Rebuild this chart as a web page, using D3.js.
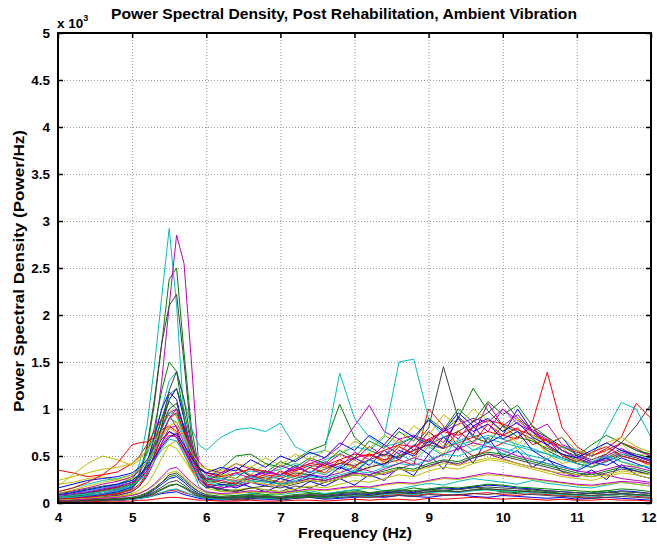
<!DOCTYPE html>
<html>
<head>
<meta charset="utf-8">
<script src="https://cdn.jsdelivr.net/npm/d3@7"></script>
<style>
  body { margin: 0; background: #fff; }
  svg text { font-family: "Liberation Sans", Arial, sans-serif; font-weight: bold; fill: #000; }
</style>
</head>
<body>
<div id="chart"></div>
<script>
// frequency bins (Hz), finer around the 5.5 Hz mode
const freqs = [4.0, 4.2, 4.4, 4.6, 4.8, 5.0,
  5.1, 5.2, 5.3, 5.4, 5.5, 5.6, 5.7, 5.8, 5.9, 6.0,
  6.2, 6.4, 6.6, 6.8, 7.0, 7.2, 7.4, 7.6, 7.8, 8.0, 8.2, 8.4, 8.6, 8.8, 9.0,
  9.2, 9.4, 9.6, 9.8, 10.0, 10.2, 10.4, 10.6, 10.8, 11.0, 11.2, 11.4, 11.6, 11.8, 12.0];

const xTicks = [4, 5, 6, 7, 8, 9, 10, 11, 12];
const yTicks = [0, 500, 1000, 1500, 2000, 2500, 3000, 3500, 4000, 4500, 5000];

// one row per measurement channel, values in Power/Hz
const psd = [
  [60, 80, 110, 140, 170, 220, 280, 380, 560, 820, 1100, 1220, 900, 560, 300, 180, 150, 220, 170, 120, 190, 140, 230, 180, 260, 190, 300, 240, 380, 290, 520, 360, 610, 420, 700, 480, 560, 380, 470, 330, 280, 350, 250, 410, 300, 260],
  [40, 50, 60, 80, 110, 180, 300, 560, 1050, 1700, 2380, 2500, 1600, 800, 380, 200, 120, 140, 110, 90, 100, 130, 110, 90, 120, 140, 110, 100, 130, 160, 140, 120, 150, 170, 140, 120, 110, 140, 120, 100, 90, 110, 130, 100, 90, 80],
  [350, 320, 280, 300, 330, 420, 500, 620, 760, 900, 940, 800, 560, 400, 300, 240, 320, 380, 300, 260, 220, 300, 260, 240, 280, 330, 380, 420, 460, 400, 1000, 820, 600, 500, 560, 640, 700, 820, 600, 520, 420, 380, 450, 500, 460, 400],
  [30, 40, 50, 70, 100, 220, 420, 820, 1450, 2200, 2920, 2100, 900, 380, 180, 110, 90, 80, 100, 120, 90, 110, 130, 100, 120, 140, 160, 130, 150, 180, 210, 190, 230, 260, 240, 220, 200, 240, 210, 190, 170, 160, 190, 220, 200, 180],
  [20, 30, 40, 60, 90, 150, 260, 420, 700, 1300, 2100, 2850, 2550, 1500, 380, 200, 180, 220, 260, 230, 200, 260, 300, 280, 320, 380, 340, 300, 360, 420, 380, 450, 400, 480, 520, 470, 420, 380, 350, 300, 280, 320, 300, 260, 240, 220],
  [180, 300, 420, 500, 460, 400, 460, 560, 700, 860, 1000, 920, 700, 500, 380, 320, 280, 360, 300, 420, 330, 260, 380, 300, 440, 360, 540, 420, 600, 520, 760, 600, 920, 700, 640, 820, 560, 700, 520, 600, 420, 380, 520, 640, 480, 560],
  [50, 60, 80, 100, 140, 200, 320, 600, 1100, 1700, 2100, 2220, 1500, 700, 320, 180, 150, 130, 160, 140, 120, 180, 160, 220, 260, 320, 380, 420, 500, 600, 800, 1450, 900, 700, 640, 820, 760, 680, 560, 480, 420, 380, 440, 520, 480, 420],
  [20, 20, 30, 40, 30, 40, 50, 60, 80, 100, 110, 120, 90, 70, 50, 40, 30, 40, 50, 40, 30, 50, 60, 40, 50, 60, 70, 60, 80, 70, 60, 80, 90, 70, 60, 80, 70, 60, 50, 60, 40, 50, 60, 50, 40, 30],
  [100, 120, 150, 180, 200, 260, 360, 520, 800, 1200, 1500, 1400, 900, 520, 320, 260, 360, 500, 520, 420, 380, 460, 560, 620, 1050, 700, 560, 500, 620, 700, 640, 760, 900, 1220, 980, 820, 700, 660, 580, 520, 460, 420, 480, 560, 520, 480],
  [60, 80, 100, 130, 160, 200, 260, 340, 480, 640, 760, 700, 520, 360, 260, 200, 180, 220, 260, 300, 280, 340, 400, 380, 420, 480, 520, 460, 500, 560, 620, 580, 640, 700, 760, 720, 680, 860, 1390, 800, 600, 500, 560, 640, 580, 500],
  [120, 160, 200, 240, 260, 300, 380, 520, 720, 1000, 1300, 1400, 1100, 800, 620, 560, 700, 780, 800, 760, 850, 600, 520, 560, 1380, 900, 700, 600, 640, 700, 620, 580, 660, 720, 680, 640, 600, 560, 520, 480, 440, 420, 480, 520, 500, 460],
  [40, 60, 80, 100, 130, 180, 240, 340, 500, 700, 900, 1000, 820, 560, 380, 300, 260, 240, 280, 320, 300, 360, 420, 480, 600, 820, 1040, 760, 680, 720, 660, 760, 840, 900, 860, 1000, 880, 760, 660, 560, 480, 420, 460, 540, 500, 440],
  [200, 220, 260, 280, 240, 260, 300, 360, 460, 560, 620, 580, 460, 340, 260, 220, 280, 220, 300, 260, 200, 340, 280, 400, 320, 460, 360, 520, 420, 480, 620, 520, 780, 600, 680, 860, 620, 760, 520, 420, 460, 380, 560, 440, 380, 420],
  [70, 90, 110, 140, 170, 220, 280, 380, 560, 800, 1000, 1060, 800, 520, 340, 260, 220, 200, 240, 280, 260, 320, 300, 360, 420, 400, 460, 520, 480, 560, 620, 700, 760, 860, 960, 1100, 900, 780, 700, 600, 520, 460, 520, 640, 820, 1050],
  [160, 200, 240, 260, 280, 320, 380, 460, 560, 680, 760, 720, 580, 440, 360, 320, 300, 380, 280, 340, 300, 400, 320, 420, 360, 480, 400, 560, 460, 620, 520, 700, 560, 820, 640, 720, 1000, 760, 620, 700, 500, 440, 400, 480, 420, 360],
  [30, 40, 60, 80, 100, 160, 240, 380, 620, 900, 1150, 1220, 980, 620, 360, 240, 200, 180, 220, 240, 200, 220, 260, 240, 280, 320, 300, 340, 380, 360, 420, 460, 440, 500, 540, 520, 480, 440, 400, 360, 320, 300, 340, 380, 360, 320],
  [30, 30, 40, 30, 40, 50, 60, 70, 90, 110, 130, 140, 110, 90, 70, 60, 50, 40, 60, 50, 40, 60, 70, 60, 80, 70, 60, 80, 90, 80, 100, 90, 80, 100, 110, 90, 80, 100, 90, 80, 70, 60, 80, 90, 70, 60],
  [80, 100, 130, 160, 190, 240, 300, 400, 560, 740, 900, 860, 680, 480, 340, 280, 260, 300, 340, 320, 360, 420, 380, 460, 520, 600, 560, 700, 1500, 1530, 900, 700, 620, 660, 720, 680, 620, 580, 520, 460, 420, 380, 440, 500, 460, 420],
  [100, 130, 160, 200, 230, 280, 340, 440, 600, 800, 960, 1000, 820, 600, 440, 360, 320, 420, 360, 300, 400, 340, 460, 400, 520, 460, 600, 500, 680, 560, 760, 640, 900, 720, 1060, 820, 940, 760, 840, 620, 560, 420, 520, 640, 560, 500],
  [20, 30, 40, 50, 70, 100, 140, 200, 320, 480, 620, 660, 520, 340, 220, 160, 120, 140, 160, 140, 120, 150, 180, 160, 200, 240, 220, 260, 300, 280, 340, 380, 360, 420, 460, 440, 400, 360, 320, 280, 260, 240, 280, 320, 300, 260],
  [10, 10, 20, 20, 30, 40, 50, 70, 100, 140, 180, 200, 160, 110, 70, 50, 40, 30, 40, 50, 40, 50, 60, 50, 60, 70, 60, 70, 80, 70, 90, 80, 90, 100, 90, 110, 100, 90, 80, 70, 60, 50, 60, 70, 60, 50],
  [40, 50, 70, 90, 120, 170, 260, 420, 700, 1000, 1180, 1100, 780, 440, 240, 160, 200, 160, 220, 180, 260, 220, 300, 260, 380, 320, 460, 400, 560, 500, 660, 580, 920, 760, 840, 680, 760, 560, 460, 400, 340, 420, 480, 380, 340, 300],
  [60, 70, 90, 120, 150, 200, 280, 420, 640, 900, 1080, 1000, 740, 480, 320, 240, 300, 260, 380, 320, 440, 380, 480, 420, 560, 480, 660, 580, 760, 660, 900, 780, 1000, 860, 1080, 940, 1040, 820, 700, 560, 500, 620, 720, 640, 560, 520],
  [120, 160, 220, 300, 420, 620, 640, 650, 700, 780, 820, 760, 600, 460, 380, 320, 280, 320, 360, 340, 300, 360, 420, 400, 460, 520, 500, 560, 620, 600, 680, 760, 720, 800, 880, 840, 780, 720, 660, 600, 540, 500, 580, 700, 1060, 900],
  [50, 60, 80, 100, 130, 180, 260, 380, 560, 780, 960, 940, 720, 460, 300, 220, 180, 200, 240, 220, 200, 240, 280, 260, 300, 340, 320, 380, 420, 400, 460, 520, 500, 560, 600, 580, 540, 500, 460, 600, 560, 500, 780, 1070, 1000, 700],
  [30, 40, 50, 60, 80, 120, 180, 280, 440, 640, 800, 820, 640, 420, 260, 180, 160, 180, 220, 200, 180, 220, 260, 240, 280, 320, 300, 360, 420, 480, 440, 520, 580, 640, 600, 560, 500, 460, 420, 380, 340, 320, 360, 400, 380, 340],
  [240, 280, 320, 360, 380, 420, 480, 560, 660, 760, 800, 740, 600, 480, 400, 360, 340, 420, 380, 480, 400, 520, 460, 560, 500, 660, 580, 720, 640, 820, 720, 940, 820, 1000, 880, 760, 900, 720, 640, 700, 560, 520, 640, 700, 600, 540],
  [20, 30, 40, 60, 80, 120, 180, 300, 520, 820, 1200, 1400, 1100, 640, 320, 180, 140, 120, 160, 180, 160, 200, 240, 220, 260, 300, 280, 320, 360, 340, 400, 440, 420, 480, 520, 500, 460, 420, 380, 340, 300, 280, 320, 360, 340, 300],
  [10, 20, 20, 30, 30, 40, 60, 90, 140, 200, 260, 280, 220, 150, 100, 70, 50, 60, 70, 60, 50, 70, 80, 70, 90, 100, 90, 110, 120, 110, 140, 160, 150, 170, 190, 180, 160, 150, 130, 120, 110, 100, 110, 130, 120, 100],
  [20, 20, 30, 40, 50, 60, 80, 110, 160, 220, 280, 300, 240, 170, 120, 90, 70, 80, 90, 80, 70, 90, 100, 90, 110, 120, 110, 130, 140, 130, 150, 170, 160, 180, 200, 190, 170, 160, 150, 140, 130, 120, 130, 150, 140, 120],
  [40, 50, 60, 80, 100, 140, 200, 320, 500, 720, 900, 960, 760, 500, 320, 220, 240, 200, 300, 240, 340, 280, 380, 320, 460, 380, 520, 440, 600, 520, 680, 580, 760, 640, 840, 720, 800, 620, 680, 500, 440, 540, 600, 500, 460, 420],
  [10, 10, 20, 20, 30, 40, 50, 60, 80, 110, 140, 150, 120, 90, 60, 50, 40, 50, 60, 50, 40, 60, 70, 60, 70, 80, 70, 90, 100, 90, 110, 120, 110, 130, 140, 130, 120, 110, 100, 90, 80, 70, 80, 90, 80, 70],
  [80, 100, 120, 150, 180, 220, 280, 360, 480, 620, 720, 700, 560, 420, 320, 260, 240, 320, 260, 340, 300, 380, 320, 440, 380, 540, 460, 620, 520, 700, 600, 800, 680, 880, 760, 1000, 840, 760, 680, 560, 480, 420, 500, 580, 500, 440],
  [30, 40, 50, 60, 70, 90, 110, 140, 190, 260, 320, 340, 280, 200, 140, 110, 90, 100, 120, 110, 100, 120, 140, 130, 150, 170, 160, 190, 210, 200, 230, 260, 250, 280, 300, 290, 270, 250, 230, 210, 190, 180, 200, 220, 200, 180],
  [10, 20, 20, 30, 40, 50, 70, 100, 150, 220, 300, 320, 260, 180, 120, 80, 60, 70, 80, 70, 60, 80, 90, 80, 100, 110, 100, 120, 130, 120, 140, 150, 140, 160, 170, 160, 150, 140, 130, 120, 110, 100, 110, 120, 110, 100],
  [90, 110, 140, 170, 200, 240, 300, 380, 480, 600, 700, 740, 620, 480, 380, 320, 380, 340, 460, 380, 500, 440, 540, 480, 640, 560, 720, 620, 800, 700, 880, 760, 960, 820, 900, 760, 860, 700, 620, 520, 480, 560, 640, 560, 500, 460],
  [10, 20, 30, 30, 40, 50, 60, 80, 110, 150, 190, 200, 170, 120, 80, 60, 50, 60, 70, 60, 50, 60, 70, 60, 80, 90, 80, 100, 110, 100, 120, 130, 120, 140, 150, 140, 130, 120, 110, 100, 90, 80, 90, 100, 90, 80],
  [10, 10, 10, 20, 20, 20, 30, 30, 40, 50, 60, 60, 50, 40, 30, 30, 20, 20, 30, 20, 20, 30, 30, 20, 30, 40, 30, 40, 40, 30, 50, 40, 50, 60, 50, 40, 50, 40, 30, 40, 30, 30, 40, 30, 30, 20],
  [60, 80, 100, 120, 150, 190, 240, 320, 440, 580, 680, 660, 520, 380, 280, 220, 260, 220, 280, 240, 300, 260, 340, 300, 400, 340, 460, 380, 520, 440, 600, 500, 680, 560, 640, 520, 600, 460, 420, 380, 360, 440, 500, 440, 400, 380],
  [20, 30, 40, 50, 60, 80, 100, 140, 200, 280, 360, 380, 300, 220, 160, 120, 100, 110, 130, 120, 110, 130, 150, 140, 160, 180, 170, 200, 220, 210, 240, 270, 260, 290, 320, 300, 280, 260, 240, 220, 200, 190, 210, 230, 220, 200],
  [100, 140, 180, 220, 250, 300, 360, 440, 560, 700, 820, 860, 720, 540, 420, 360, 300, 260, 220, 200, 180, 220, 240, 220, 260, 300, 280, 320, 360, 340, 380, 420, 400, 440, 480, 460, 420, 380, 340, 320, 300, 280, 300, 340, 320, 300],
  [20, 20, 30, 30, 40, 50, 60, 80, 120, 170, 220, 240, 190, 130, 90, 70, 60, 50, 60, 70, 60, 70, 80, 70, 80, 90, 80, 100, 110, 100, 120, 130, 120, 140, 150, 140, 130, 120, 110, 100, 90, 80, 90, 100, 90, 80]
];

// matlab line colour cycle
const lineColors = ['#0000ff', '#008000', '#ff0000', '#00bfbf', '#bf00bf', '#bfbf00', '#404040'];

const width = 657;
const height = 544;
const margin = {top: 33, right: 6, bottom: 41, left: 58};
const plotW = width - margin.left - margin.right;
const plotH = height - margin.top - margin.bottom;

const svg = d3.select('#chart')
  .append('svg')
  .attr('width', width)
  .attr('height', height);

const x = d3.scaleLinear().domain([4, 12]).range([0, plotW]);
const y = d3.scaleLinear().domain([0, 5000]).range([plotH, 0]);

const g = svg.append('g')
  .attr('transform', `translate(${margin.left},${margin.top})`);

// dotted grid
g.append('g')
  .attr('class', 'grid')
  .attr('transform', `translate(0,${plotH})`)
  .call(d3.axisBottom(x).tickValues(xTicks).tickSize(-plotH).tickFormat(''));
g.append('g')
  .attr('class', 'grid')
  .call(d3.axisLeft(y).tickValues(yTicks).tickSize(-plotW).tickFormat(''));
g.selectAll('.grid .domain').remove();
g.selectAll('.grid line')
  .attr('stroke', '#9a9a9a')
  .attr('stroke-width', 1)
  .attr('stroke-dasharray', '1,2');

g.append('clipPath').attr('id', 'clip')
  .append('rect').attr('width', plotW).attr('height', plotH);

const line = d3.line()
  .x((d, i) => x(freqs[i]))
  .y(d => y(d));

g.append('g')
  .attr('clip-path', 'url(#clip)')
  .selectAll('path')
  .data(psd)
  .join('path')
  .attr('d', line)
  .attr('fill', 'none')
  .attr('stroke', (d, i) => lineColors[i % lineColors.length])
  .attr('stroke-width', 1)
  .attr('stroke-linejoin', 'round');

// axes, ticks pointing inward like matlab
const xAxis = g.append('g')
  .attr('transform', `translate(0,${plotH})`)
  .call(d3.axisBottom(x).tickValues(xTicks).tickSize(-5).tickSizeOuter(0).tickPadding(9));
const yAxis = g.append('g')
  .call(d3.axisLeft(y).tickValues(yTicks).tickSize(-5).tickSizeOuter(0).tickPadding(8)
    .tickFormat(d => d3.format('~g')(d / 1000)));
const topAxis = g.append('g')
  .call(d3.axisTop(x).tickValues(xTicks).tickSize(-5).tickSizeOuter(0).tickFormat(''));
const rightAxis = g.append('g')
  .attr('transform', `translate(${plotW},0)`)
  .call(d3.axisRight(y).tickValues(yTicks).tickSize(-5).tickSizeOuter(0).tickFormat(''));

[xAxis, yAxis, topAxis, rightAxis].forEach(a => {
  a.select('.domain').remove();
  a.selectAll('line').attr('stroke', '#000').attr('stroke-width', 1.5);
  a.selectAll('text').attr('font-size', 13.5).attr('font-family', null);
});

// last x label sits on the window edge, keep it inside
xAxis.selectAll('.tick text')
  .filter(d => d === 12)
  .attr('text-anchor', 'end')
  .attr('x', 5);

g.append('rect')
  .attr('width', plotW)
  .attr('height', plotH)
  .attr('fill', 'none')
  .attr('stroke', '#000')
  .attr('stroke-width', 2);

// exponent label
const expo = svg.append('text')
  .attr('x', margin.left - 1)
  .attr('y', 28)
  .attr('font-size', 13.5);
expo.append('tspan').text('x 10');
expo.append('tspan').attr('dy', -7).attr('font-size', 9).text('3');

svg.append('text')
  .attr('x', 344)
  .attr('y', 19)
  .attr('text-anchor', 'middle')
  .attr('font-size', 14.5)
  .attr('textLength', 466)
  .attr('lengthAdjust', 'spacingAndGlyphs')
  .text('Power Spectral Density, Post Rehabilitation, Ambient Vibration');

svg.append('text')
  .attr('x', 355)
  .attr('y', 538)
  .attr('text-anchor', 'middle')
  .attr('font-size', 14.5)
  .attr('textLength', 114)
  .attr('lengthAdjust', 'spacingAndGlyphs')
  .text('Frequency (Hz)');

svg.append('text')
  .attr('transform', `translate(24,271) rotate(-90)`)
  .attr('text-anchor', 'middle')
  .attr('font-size', 15)
  .attr('textLength', 282)
  .attr('lengthAdjust', 'spacingAndGlyphs')
  .text('Power Spectral Density (Power/Hz)');
</script>
</body>
</html>
